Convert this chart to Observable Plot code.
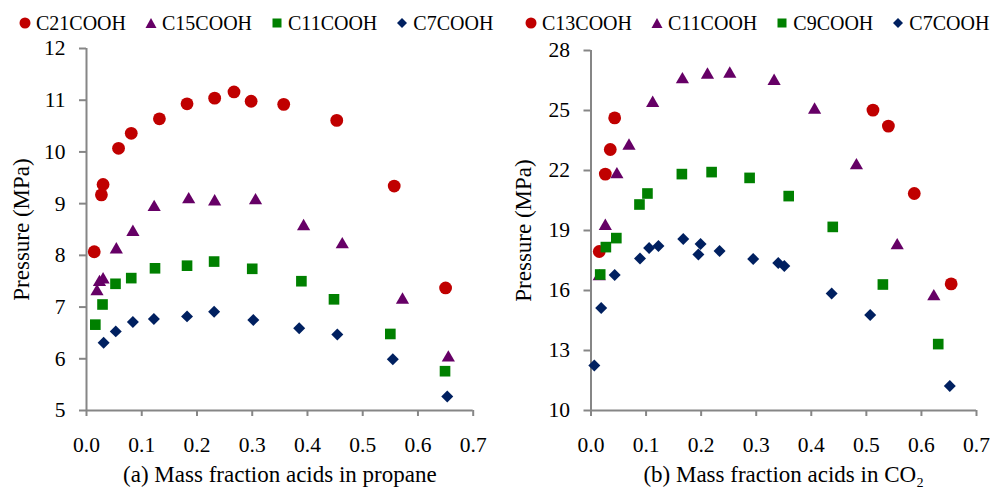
<!DOCTYPE html>
<html><head><meta charset="utf-8">
<script src="https://cdn.jsdelivr.net/npm/d3@7"></script>
<script src="https://cdn.jsdelivr.net/npm/@observablehq/plot@0.6"></script>
<style>
body{margin:0;background:#fff;font-family:"Liberation Serif","Times New Roman",serif;}
#wrap{position:relative;width:992px;height:488px;overflow:hidden}
.panel{position:absolute;top:0;width:496px;height:488px}
.legend{position:absolute;top:8px;height:30px;display:flex;align-items:center;gap:19px;font-size:20px;color:#000;white-space:nowrap}
.item{display:flex;align-items:center;gap:5px}
.item svg{display:block}
.plot{position:absolute;top:30px;left:0}
svg.plot, svg.plot text{font-family:"Liberation Serif","Times New Roman",serif !important}
svg.plot g[aria-label="x-axis tick label"] text, svg.plot g[aria-label="y-axis tick label"] text{font-size:21.5px}
svg.plot g[aria-label="x-axis label"] text, svg.plot g[aria-label="y-axis label"] text{font-size:23px}
</style></head><body><div id="wrap"></div>
<script>
// ---- shared ticks ----
const xTicks = [0, 0.1, 0.2, 0.3, 0.4, 0.5, 0.6, 0.7];
const yTicksA = [5, 6, 7, 8, 9, 10, 11, 12];
const yTicksB = [10, 13, 16, 19, 22, 25, 28];

// ---- panel (a): propane ----
const seriesA = ["C21COOH", "C15COOH", "C11COOH", "C7COOH"];
const a_C21_x = [0.014,0.027,0.030,0.058,0.081,0.132,0.182,0.232,0.267,0.298,0.357,0.453,0.557,0.650];
const a_C21_y = [8.07,9.17,9.37,10.07,10.36,10.64,10.93,11.04,11.16,10.98,10.92,10.61,9.34,7.37];
const a_C15_x = [0.019,0.0235,0.030,0.054,0.084,0.1225,0.185,0.232,0.306,0.393,0.463,0.572,0.655];
const a_C15_y = [7.30,7.48,7.53,8.11,8.45,8.93,9.08,9.04,9.06,8.56,8.21,7.14,6.02];
const a_C11_x = [0.016,0.029,0.0525,0.081,0.124,0.182,0.231,0.300,0.389,0.448,0.550,0.649];
const a_C11_y = [6.66,7.05,7.45,7.56,7.75,7.80,7.88,7.74,7.50,7.15,6.48,5.76];
const a_C7_x = [0.031,0.053,0.084,0.122,0.182,0.231,0.302,0.385,0.454,0.5545,0.653];
const a_C7_y = [6.31,6.53,6.71,6.77,6.82,6.91,6.75,6.59,6.47,5.99,5.27];

// ---- panel (b): CO2 ----
const seriesB = ["C13COOH", "C11COOH", "C9COOH", "C7COOH"];
const b_C13_x = [0.015,0.026,0.035,0.043,0.512,0.540,0.587,0.654];
const b_C13_y = [17.95,21.82,23.05,24.63,25.02,24.22,20.85,16.33];
const b_C11_x = [0.015,0.026,0.047,0.069,0.112,0.166,0.2115,0.252,0.3325,0.406,0.482,0.556,0.6225];
const b_C11_y = [16.7,19.22,21.80,23.23,25.37,26.55,26.78,26.83,26.47,25.03,22.25,18.25,15.70];
const b_C9_x = [0.0167,0.027,0.046,0.088,0.1025,0.165,0.219,0.288,0.359,0.439,0.530,0.6305];
const b_C9_y = [16.8,18.17,18.62,20.30,20.85,21.82,21.92,21.63,20.72,19.18,16.30,13.32];
const b_C7_x = [0.006,0.0185,0.043,0.089,0.1055,0.1225,0.1675,0.199,0.195,0.2335,0.2945,0.340,0.351,0.437,0.507,0.6515];
const b_C7_y = [12.25,15.12,16.77,17.60,18.12,18.22,18.58,18.33,17.80,17.97,17.58,17.37,17.22,15.85,14.77,11.22];

const xLabelA = "(a) Mass fraction acids in propane";
const xLabelB = "(b) Mass fraction acids in CO\u2082";
const yLabel = "Pressure (MPa)";

// ---- styles ----
const GRAY = "#868686";
const FONT = "Liberation Serif";
const STYLES = [
  {symbol: "circle", r: 6.4, fill: "#C00000"},
  {symbol: "triangle", r: 4.9, fill: "#660066"},
  {symbol: "square", r: 6.0, fill: "#008000"},
  {symbol: "diamond2", r: 5.4, fill: "#002060"}
];

function legendIcon(i) {
  const s = STYLES[i];
  const shapes = [
    `<circle cx="6" cy="6" r="5.5" fill="${s.fill}"/>`,
    `<path d="M6 1 L11.5 11 L0.5 11 Z" fill="${s.fill}"/>`,
    `<rect x="1.5" y="1.5" width="9" height="9" fill="${s.fill}"/>`,
    `<path d="M6 1 L11 6 L6 11 L1 6 Z" fill="${s.fill}"/>`
  ];
  return `<svg width="12" height="12" viewBox="0 0 12 12">${shapes[i]}</svg>`;
}

function panel(cfg) {
  const div = document.createElement("div");
  div.className = "panel";
  div.style.left = cfg.left + "px";
  const leg = document.createElement("div");
  leg.className = "legend";
  leg.style.left = cfg.legendLeft + "px";
  leg.innerHTML = cfg.names.map((n, i) => `<div class="item">${legendIcon(i)}<span>${n}</span></div>`).join("");
  div.appendChild(leg);

  const dots = cfg.series.map(([xs, ys], i) =>
    Plot.dot({length: xs.length}, {x: xs, y: ys, symbol: STYLES[i].symbol, r: STYLES[i].r, fill: STYLES[i].fill, stroke: "none"})
  );

  const chart = Plot.plot({
    width: 496, height: 458,
    marginTop: cfg.mt, marginBottom: 78, marginLeft: cfg.ml, marginRight: cfg.mr,
    style: {fontSize: "21px", color: "#000", background: "transparent"},
    x: {domain: [0, 0.7]},
    y: {domain: cfg.yDomain},
    marks: [
      Plot.ruleY([cfg.yDomain[0]], {stroke: GRAY, strokeWidth: 2}),
      Plot.ruleX([0], {stroke: GRAY, strokeWidth: 2}),
      Plot.axisY({ticks: cfg.yTicks, tickSize: 7, tickPadding: 14, stroke: GRAY, strokeWidth: 2, fill: "#000",
        fontFamily: FONT, fontSize: 21,
        tickFormat: d => String(d), label: yLabel, labelAnchor: "center", labelArrow: "none", labelOffset: cfg.ylo}),
      Plot.axisX({ticks: xTicks, tickSize: 6, tickPadding: 20, stroke: GRAY, strokeWidth: 2, fill: "#000",
        fontFamily: FONT, fontSize: 21,
        tickFormat: d => d.toFixed(1), label: cfg.xLabel, labelAnchor: "center", labelArrow: "none", labelOffset: 71}),
      ...dots
    ]
  });
  chart.classList.add("plot");
  div.appendChild(chart);
  document.getElementById("wrap").appendChild(div);
}

panel({
  left: 0, legendLeft: 19, names: seriesA,
  series: [[a_C21_x, a_C21_y], [a_C15_x, a_C15_y], [a_C11_x, a_C11_y], [a_C7_x, a_C7_y]],
  yDomain: [5, 12], yTicks: yTicksA, mt: 18, ml: 86, mr: 23.3, ylo: 74, xLabel: xLabelA
});
panel({
  left: 496, legendLeft: 29, names: seriesB,
  series: [[b_C13_x, b_C13_y], [b_C11_x, b_C11_y], [b_C9_x, b_C9_y], [b_C7_x, b_C7_y]],
  yDomain: [10, 28], yTicks: yTicksB, mt: 20, ml: 94.5, mr: 16, ylo: 76, xLabel: xLabelB
});
</script></body></html>
